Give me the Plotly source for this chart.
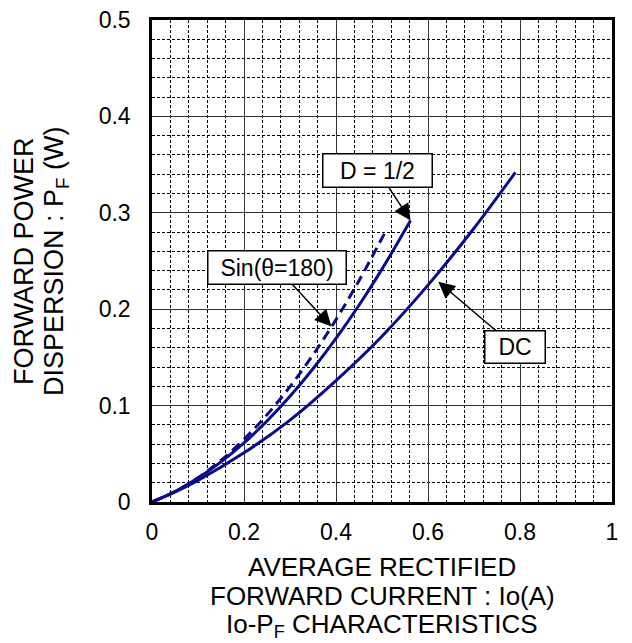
import plotly.graph_objects as go

# ---- data ----
dc_x = [0, 0.05, 0.1, 0.2, 0.3, 0.4, 0.5, 0.6, 0.7, 0.79]
dc_y = [0, 0.0105, 0.0224, 0.051, 0.085, 0.126, 0.172, 0.225, 0.284, 0.342]

d12_x = [0, 0.05, 0.1, 0.15, 0.2, 0.25, 0.3, 0.35, 0.4, 0.45, 0.5, 0.562]
d12_y = [0, 0.0109, 0.0248, 0.0416, 0.0613, 0.084, 0.1096, 0.1382, 0.1697, 0.2041, 0.2416, 0.292]

sin_x = [0, 0.05, 0.1, 0.15, 0.2, 0.25, 0.3, 0.35, 0.4, 0.45, 0.507]
sin_y = [0, 0.0107, 0.0251, 0.0432, 0.065, 0.0905, 0.1197, 0.1526, 0.1892, 0.2296, 0.28]

x_ticks = [0, 0.2, 0.4, 0.6, 0.8, 1.0]
x_tick_labels = ["0", "0.2", "0.4", "0.6", "0.8", "1"]
y_ticks = [0, 0.1, 0.2, 0.3, 0.4, 0.5]
y_tick_labels = ["0", "0.1", "0.2", "0.3", "0.4", "0.5"]

x_title_lines = ["AVERAGE RECTIFIED", "FORWARD CURRENT : Io(A)", "Io-P<sub>F</sub> CHARACTERISTICS"]
y_title_lines = ["FORWARD POWER", "DISPERSION : P<sub>F</sub> (W)"]

# label boxes: (text, box centre x, box centre y, arrow head x, arrow head y, box w, box h)
labels = [
    ("D = 1/2", 0.491, 0.3434, 0.562, 0.292, 111, 35),
    ("Sin(θ=180)", 0.271, 0.2433, 0.390, 0.182, 140, 35),
    ("DC", 0.789, 0.161, 0.6224, 0.2285, 62, 34),
]

FONT = "Liberation Sans, Arial, sans-serif"
LINE = "#0b0b8a"

# page body adds an 8px offset; figure is sized so everything fits the window
OFF = 8
PL, PR, PT, PB = 152, 612, 20, 502  # plot area in window pixels
W, H = 632 - OFF, 643 - OFF

fig = go.Figure()
fig.add_trace(go.Scatter(x=dc_x, y=dc_y, mode="lines", line=dict(color=LINE, width=3, shape="spline"), showlegend=False))
fig.add_trace(go.Scatter(x=d12_x, y=d12_y, mode="lines", line=dict(color=LINE, width=3, shape="spline"), showlegend=False))
fig.add_trace(go.Scatter(x=sin_x, y=sin_y, mode="lines", line=dict(color=LINE, width=3, dash="10px,6px", shape="spline"), showlegend=False))

for text, bx, by, hx, hy, w, h in labels:
    fig.add_annotation(
        x=hx, y=hy, ax=bx, ay=by, xref="x", yref="y", axref="x", ayref="y",
        text=text, showarrow=True, arrowhead=2, arrowsize=2.2, arrowwidth=1.5,
        arrowcolor="black", bgcolor="white", bordercolor="black", borderwidth=1.5,
        borderpad=0, width=w - 3, height=h - 3,
        font=dict(family=FONT, size=23, color="black"),
    )

# axis titles as separate lines (tight line spacing like the reference)
x_title_centres = [567, 596, 625]  # window pixel centre of each line
for line, cy in zip(x_title_lines, x_title_centres):
    fig.add_annotation(
        x=0.5, y=0, xref="paper", yref="paper", xanchor="center", yanchor="middle",
        yshift=-(cy - PB), text=line, showarrow=False,
        font=dict(family=FONT, size=26, color="black"),
    )
y_title_centres = [24, 56]
for line, cx in zip(y_title_lines, y_title_centres):
    fig.add_annotation(
        x=0, y=0.5, xref="paper", yref="paper", xanchor="center", yanchor="middle",
        xshift=-(PL - cx), textangle=-90, text=line, showarrow=False,
        font=dict(family=FONT, size=27, color="black"),
    )

fig.update_layout(
    width=W, height=H,
    margin=dict(l=PL - OFF, r=W - (PR - OFF), t=PT - OFF, b=H - (PB - OFF)),
    paper_bgcolor="white", plot_bgcolor="white",
    font=dict(family=FONT, size=23, color="black"),
    xaxis=dict(
        range=[0, 1], tickvals=x_ticks, ticktext=x_tick_labels, automargin=False,
        showgrid=True, gridcolor="#333", gridwidth=1,
        minor=dict(dtick=0.04, showgrid=True, gridcolor="black", gridwidth=1, griddash="3px,2px"),
        showline=True, linecolor="black", linewidth=2.5, mirror=True,
        ticks="", ticklabelstandoff=8, zeroline=False, ticklabeloverflow="allow",
        tickfont=dict(size=23),
    ),
    yaxis=dict(
        range=[0, 0.5], tickvals=y_ticks, ticktext=y_tick_labels, automargin=False,
        showgrid=True, gridcolor="#333", gridwidth=1,
        minor=dict(dtick=0.02, showgrid=True, gridcolor="black", gridwidth=1, griddash="3px,2px"),
        showline=True, linecolor="black", linewidth=2.5, mirror=True,
        ticks="", ticklabelstandoff=14, zeroline=False, ticklabeloverflow="allow",
        tickfont=dict(size=23),
    ),
)

fig.write_html("out.html")
